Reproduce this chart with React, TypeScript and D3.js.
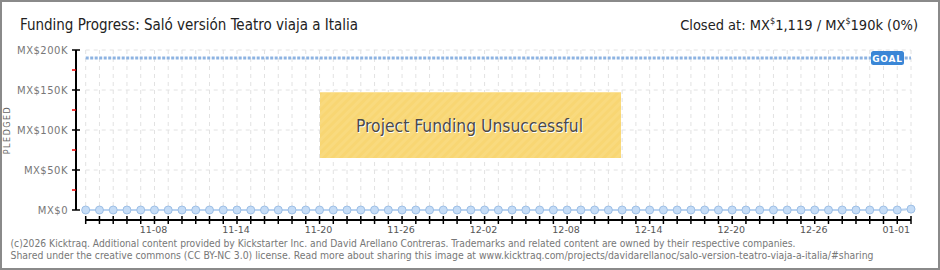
import React, { useEffect } from "react";
import * as d3 from "d3";

const startDate = "2025-11-03";
const endDate = "2026-01-02";
const pledged = [
  0, 0, 0, 0, 0, 0, 0, 0, 0, 0, 0, 0, 0, 0, 0, 0, 0, 0, 0, 0,
  0, 0, 0, 0, 0, 0, 0, 0, 0, 0, 0, 0, 0, 0, 0, 0, 0, 0, 0, 0,
  0, 0, 0, 0, 0, 0, 0, 0, 0, 0, 0, 0, 0, 0, 0, 0, 0, 0, 0, 0,
  1119,
];
const goal = 190000;
const yTicks = [0, 50000, 100000, 150000, 200000];
const yMinorTicks = [25000, 75000, 125000, 175000];
const labelEvery = 6;
const labelOffset = 5;

const W = 940;
const H = 270;

export default function App() {
  useEffect(() => {
    document.body.style.margin = "0";
  }, []);

  const parse = d3.timeParse("%Y-%m-%d");
  const d0 = parse(startDate)!;
  const d1 = parse(endDate)!;
  const days = d3.timeDay.range(d0, d3.timeDay.offset(d1, 1));
  const x = d3.scaleTime().domain([d0, d1]).range([85.7, 911]);
  const y = d3.scaleLinear().domain([0, 200000]).range([210, 50]);
  const fmt = d3.timeFormat("%m-%d");
  const data = days.map((d, i) => ({ d, v: pledged[i] ?? 0 }));
  const line = d3
    .line<{ d: Date; v: number }>()
    .x((p) => x(p.d))
    .y((p) => y(p.v));

  const gx0 = 85.7;
  const gx1 = 911;

  return (
    <svg width={W} height={H} style={{ display: "block" }}>
      <defs>
        <pattern id="stripes" width="6" height="6" patternUnits="userSpaceOnUse" patternTransform="rotate(45)">
          <rect width="6" height="6" fill="#f8d673" />
          <rect width="3" height="6" fill="#f9da7e" />
        </pattern>
      </defs>
      <rect x={1} y={1} width={W - 2} height={H - 2} fill="#fff" stroke="#8a8a8a" strokeWidth={2} />

      {/* Title */}
      <text x={20} y={30} fontFamily="DejaVu Sans Condensed, DejaVu Sans" fontSize={16} fill="#222" textLength={338} lengthAdjust="spacingAndGlyphs">
        Funding Progress: Saló versión Teatro viaja a Italia
      </text>
      <text x={918} y={30} textAnchor="end" fontFamily="DejaVu Sans Condensed, DejaVu Sans" fontSize={14.5} fill="#222">
        Closed at:{"  "}MX<tspan fontSize={9} dy={-6}>$</tspan><tspan dy={6}>1,119 /  MX</tspan><tspan fontSize={9} dy={-6}>$</tspan><tspan dy={6}>190k (0%)</tspan>
      </text>

      {/* grid */}
      {days.map((d, i) => (
        <line key={"vg" + i} x1={x(d)} x2={x(d)} y1={50} y2={210} stroke="#e2e2e2" strokeDasharray="4,4" />
      ))}
      {yTicks.map((t) => (
        <line key={"hg" + t} x1={gx0} x2={gx1} y1={y(t)} y2={y(t)} stroke="#e2e2e2" strokeDasharray="4,4" />
      ))}

      {/* Y axis */}
      <line x1={76} x2={76} y1={y(200000)} y2={y(0)} stroke="#000" strokeWidth={2} />
      {yTicks.map((t) => (
        <g key={"yt" + t}>
          <line x1={72} x2={80} y1={y(t)} y2={y(t)} stroke="#000" strokeWidth={1.5} />
          <text x={68} y={y(t) + 3.5} textAnchor="end" fontFamily="DejaVu Sans" fontSize={10} fill="#777" letterSpacing={0.5}>
            {"MX$" + (t === 0 ? "0" : t / 1000 + "K")}
          </text>
        </g>
      ))}
      {yMinorTicks.map((t) => (
        <line key={"ym" + t} x1={72} x2={76} y1={y(t)} y2={y(t)} stroke="#e00" strokeWidth={1.5} />
      ))}
      <text transform="translate(10,130) rotate(-90)" textAnchor="middle" fontFamily="DejaVu Sans" fontSize={8} fill="#666" letterSpacing={1.5}>
        PLEDGED
      </text>

      {/* X axis */}
      <line x1={gx0} x2={gx1} y1={220} y2={220} stroke="#000" strokeWidth={2} />
      {days.map((d, i) => (
        <line key={"xt" + i} x1={x(d)} x2={x(d)} y1={216} y2={224} stroke="#000" strokeWidth={1.5} />
      ))}
      {days.map((d, i) =>
        i >= labelOffset && (i - labelOffset) % labelEvery === 0 ? (
          <text key={"xl" + i} x={x(d) - 1} y={233} textAnchor="middle" fontFamily="DejaVu Sans" fontSize={9.5} fill="#555">
            {fmt(d)}
          </text>
        ) : null
      )}

      {/* Goal */}
      <line x1={gx0} x2={gx1} y1={y(goal)} y2={y(goal)} stroke="#8db3e2" strokeWidth={3} strokeDasharray="3,1.5" />
      <rect x={871} y={51} width={33} height={14} rx={2.5} fill="#3a86d6" />
      <text x={887.5} y={61.5} textAnchor="middle" fontFamily="DejaVu Sans" fontWeight="bold" fontSize={9} fill="#fff" letterSpacing={0.8}>
        GOAL
      </text>

      {/* data */}
      <path d={line(data) || ""} fill="none" stroke="#b9d3f1" strokeWidth={2} />
      {data.map((p, i) => (
        <circle key={"pt" + i} cx={x(p.d)} cy={y(p.v)} r={4} fill="#c5dcf6" stroke="#9dbfe6" strokeWidth={1} />
      ))}

      {/* banner */}
      <rect x={320} y={92} width={301} height={66} fill="url(#stripes)" />
      <line x1={320} x2={621} y1={92.5} y2={92.5} stroke="#fbe29a" />
      <text x={470.5} y={133} textAnchor="middle" fontFamily="DejaVu Sans Condensed, DejaVu Sans" fontSize={18} fill="#fff" textLength={227} lengthAdjust="spacingAndGlyphs">
        Project Funding Unsuccessful
      </text>
      <text x={469.5} y={132} textAnchor="middle" fontFamily="DejaVu Sans Condensed, DejaVu Sans" fontSize={18} fill="#4a4a4a" textLength={227} lengthAdjust="spacingAndGlyphs">
        Project Funding Unsuccessful
      </text>

      {/* footer */}
      <text x={10.5} y={247} fontFamily="DejaVu Sans" fontSize={10} fill="#777" textLength={785} lengthAdjust="spacingAndGlyphs">
        (c)2026 Kicktraq. Additional content provided by Kickstarter Inc. and David Arellano Contreras. Trademarks and related content are owned by their respective companies.
      </text>
      <text x={10.5} y={259} fontFamily="DejaVu Sans" fontSize={10} fill="#777" textLength={863} lengthAdjust="spacingAndGlyphs">
        Shared under the creative commons (CC BY-NC 3.0) license. Read more about sharing this image at www.kicktraq.com/projects/davidarellanoc/salo-version-teatro-viaja-a-italia/#sharing
      </text>
    </svg>
  );
}
